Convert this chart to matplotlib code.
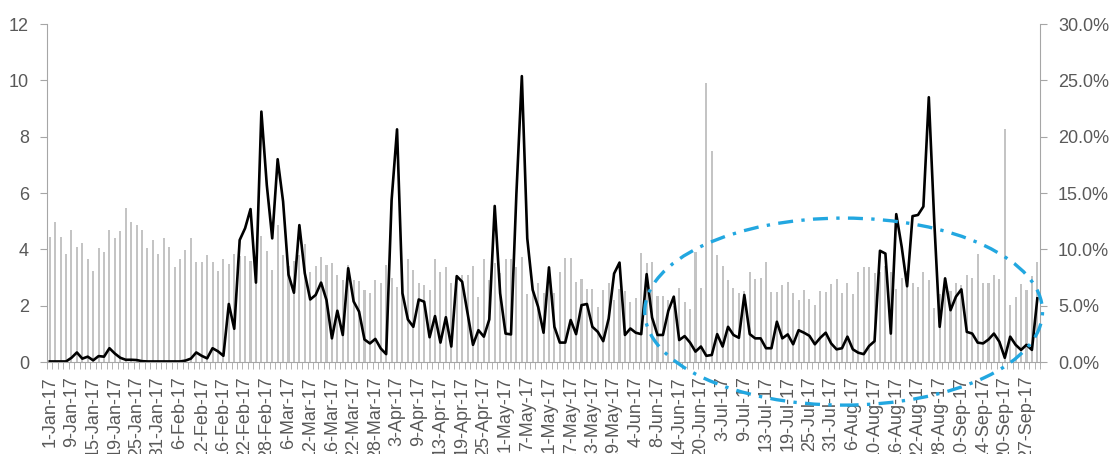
import matplotlib.pyplot as plt
from matplotlib.patches import Ellipse
from matplotlib.ticker import FuncFormatter, MultipleLocator

plt.rcParams['font.family'] = ['Liberation Sans', 'DejaVu Sans']

# black line, left axis
line_vals = [0.02, 0.02, 0.02, 0.02, 0.15, 0.34, 0.12, 0.19, 0.06, 0.21,
             0.19, 0.49, 0.30, 0.15, 0.08, 0.08, 0.07, 0.03, 0.02, 0.02,
             0.02, 0.02, 0.02, 0.02, 0.02, 0.05, 0.12, 0.34, 0.22, 0.13,
             0.49, 0.38, 0.22, 2.06, 1.18, 4.33, 4.75, 5.43, 2.82, 8.89,
             6.28, 4.39, 7.20, 5.70, 3.10, 2.46, 4.86, 3.15, 2.22, 2.38,
             2.82, 2.20, 0.84, 1.82, 0.96, 3.33, 2.15, 1.79, 0.80, 0.66,
             0.82, 0.48, 0.28, 5.75, 8.26, 2.44, 1.51, 1.25, 2.22, 2.14,
             0.88, 1.63, 0.69, 1.59, 0.55, 3.05, 2.85, 1.73, 0.61, 1.13,
             0.90, 1.51, 5.54, 2.44, 1.01, 0.98, 5.99, 10.15, 4.39, 2.56,
             1.96, 1.04, 3.36, 1.25, 0.69, 0.69, 1.49, 0.99, 2.02, 2.06,
             1.25, 1.07, 0.74, 1.54, 3.14, 3.53, 0.96, 1.19, 1.04, 0.99,
             3.12, 1.58, 0.96, 0.96, 1.82, 2.32, 0.78, 0.92, 0.69, 0.37,
             0.55, 0.22, 0.25, 0.99, 0.55, 1.25, 0.96, 0.86, 2.38, 0.99,
             0.84, 0.84, 0.49, 0.49, 1.43, 0.84, 0.98, 0.63, 1.13, 1.04,
             0.93, 0.63, 0.86, 1.04, 0.66, 0.45, 0.49, 0.90, 0.45, 0.33,
             0.28, 0.57, 0.74, 3.95, 3.85, 1.01, 5.25, 4.09, 2.69, 5.18,
             5.22, 5.52, 9.40, 5.00, 1.25, 2.97, 1.84, 2.32, 2.58, 1.07,
             1.01, 0.69, 0.66, 0.80, 1.01, 0.72, 0.15, 0.90, 0.61, 0.43,
             0.61, 0.43, 2.26]

# grey bars, right axis (percent)
bar_pct = [11.1, 12.45, 11.1, 9.6, 11.7, 10.2, 10.6, 9.1, 8.1, 10.1,
           9.8, 11.7, 11.0, 11.6, 13.7, 12.4, 12.2, 11.7, 10.1, 10.8,
           9.6, 11.0, 10.2, 8.4, 9.1, 9.9, 11.0, 8.9, 8.9, 9.5,
           8.9, 8.1, 9.1, 8.7, 9.6, 9.4, 9.4, 9.0, 9.2, 11.2,
           9.85, 8.2, 12.2, 9.5, 8.5, 9.0, 9.5, 10.5, 8.0, 8.5,
           9.3, 8.6, 8.75, 7.7, 7.3, 8.6, 7.3, 7.2, 6.4, 6.15,
           7.3, 7.0, 8.6, 7.5, 6.7, 8.0, 9.1, 8.2, 7.0, 6.8,
           6.4, 9.1, 8.0, 8.4, 7.0, 7.4, 7.7, 7.7, 8.5, 5.8,
           9.1, 7.3, 8.8, 7.9, 9.1, 9.1, 8.4, 9.3, 6.0, 6.4,
           7.0, 6.1, 7.6, 6.1, 8.0, 9.2, 9.2, 7.1, 7.4, 6.5,
           6.5, 4.9, 6.4, 7.0, 5.5, 6.5, 6.3, 5.3, 5.7, 9.7,
           8.8, 8.9, 5.9, 5.9, 5.5, 5.0, 6.6, 5.3, 4.7, 9.8,
           6.6, 24.8, 18.75, 9.5, 8.5, 7.3, 6.6, 6.15, 6.3, 8.0,
           7.4, 7.5, 8.9, 6.2, 6.2, 6.8, 7.1, 6.15, 5.5, 6.4,
           5.6, 5.1, 6.3, 6.2, 6.9, 7.4, 6.15, 7.0, 6.0, 8.0,
           8.4, 8.4, 7.9, 8.0, 8.5, 8.0, 6.5, 7.5, 8.1, 7.0,
           6.7, 8.0, 7.3, 4.8, 6.0, 6.5, 6.3, 7.0, 6.8, 7.7,
           7.5, 9.6, 7.0, 7.0, 7.7, 7.4, 20.7, 5.1, 5.8, 6.9,
           6.4, 7.6, 8.9]

# one label every 4 categories
date_labels = ['1-Jan-17', '9-Jan-17', '15-Jan-17', '19-Jan-17', '25-Jan-17',
               '31-Jan-17', '6-Feb-17', '12-Feb-17', '16-Feb-17', '22-Feb-17',
               '28-Feb-17', '6-Mar-17', '12-Mar-17', '16-Mar-17', '22-Mar-17',
               '28-Mar-17', '3-Apr-17', '9-Apr-17', '13-Apr-17', '19-Apr-17',
               '25-Apr-17', '1-May-17', '7-May-17', '11-May-17', '17-May-17',
               '23-May-17', '29-May-17', '4-Jun-17', '8-Jun-17', '14-Jun-17',
               '20-Jun-17', '3-Jul-17', '9-Jul-17', '13-Jul-17', '19-Jul-17',
               '25-Jul-17', '31-Jul-17', '6-Aug-17', '10-Aug-17', '16-Aug-17',
               '22-Aug-17', '28-Aug-17', '10-Sep-17', '14-Sep-17', '20-Sep-17',
               '27-Sep-17']

grey_txt = '#595959'
grey_ax = '#A6A6A6'

n = len(line_vals)
x = list(range(n))

fig = plt.figure(figsize=(11.12, 4.54), dpi=100)
ax = fig.add_axes([0.0423, 0.2026, 0.893, 0.7445])
ax2 = ax.twinx()

ax2.bar(x, bar_pct, width=0.38, color='#C4C4C4')
ax.plot(x, line_vals, color='black', lw=1.9)
ax.set_zorder(ax2.get_zorder() + 1)
ax.patch.set_visible(False)

ax.set_xlim(-0.5, n - 0.5)
ax.set_ylim(0, 12)
ax2.set_ylim(0, 30)
ax.yaxis.set_major_locator(MultipleLocator(2))
ax2.yaxis.set_major_locator(MultipleLocator(5))
ax2.yaxis.set_major_formatter(FuncFormatter(lambda v, p: '{:.1f}%'.format(v)))

ax.set_xticks(range(0, n, 4))
ax.set_xticklabels(date_labels, rotation=90)
ax.set_xticks([i - 0.5 for i in range(n + 1)], minor=True)
ax.tick_params(axis='x', which='major', length=0, pad=10, labelsize=13, labelcolor=grey_txt)
ax.tick_params(axis='x', which='minor', length=5, color=grey_ax)
ax.tick_params(axis='y', length=5, color=grey_ax, pad=8, labelsize=13, labelcolor=grey_txt)
ax2.tick_params(axis='y', length=5, color=grey_ax, pad=8, labelsize=13, labelcolor=grey_txt)

for s in ['top', 'right']:
    ax.spines[s].set_visible(False)
for s in ['top', 'left', 'bottom']:
    ax2.spines[s].set_visible(False)
ax.spines['left'].set_color(grey_ax)
ax.spines['bottom'].set_color(grey_ax)
ax2.spines['right'].set_color(grey_ax)

# highlight ring around the summer period
ring = Ellipse((146.3, 1.79), 73.3, 6.64, fill=False, ec='#22A7E0', lw=2.4,
               ls=(0, (4.5, 2.5, 1, 2.5)), clip_on=False, zorder=5)
ax.add_patch(ring)

fig.savefig('out.png', dpi=100)
